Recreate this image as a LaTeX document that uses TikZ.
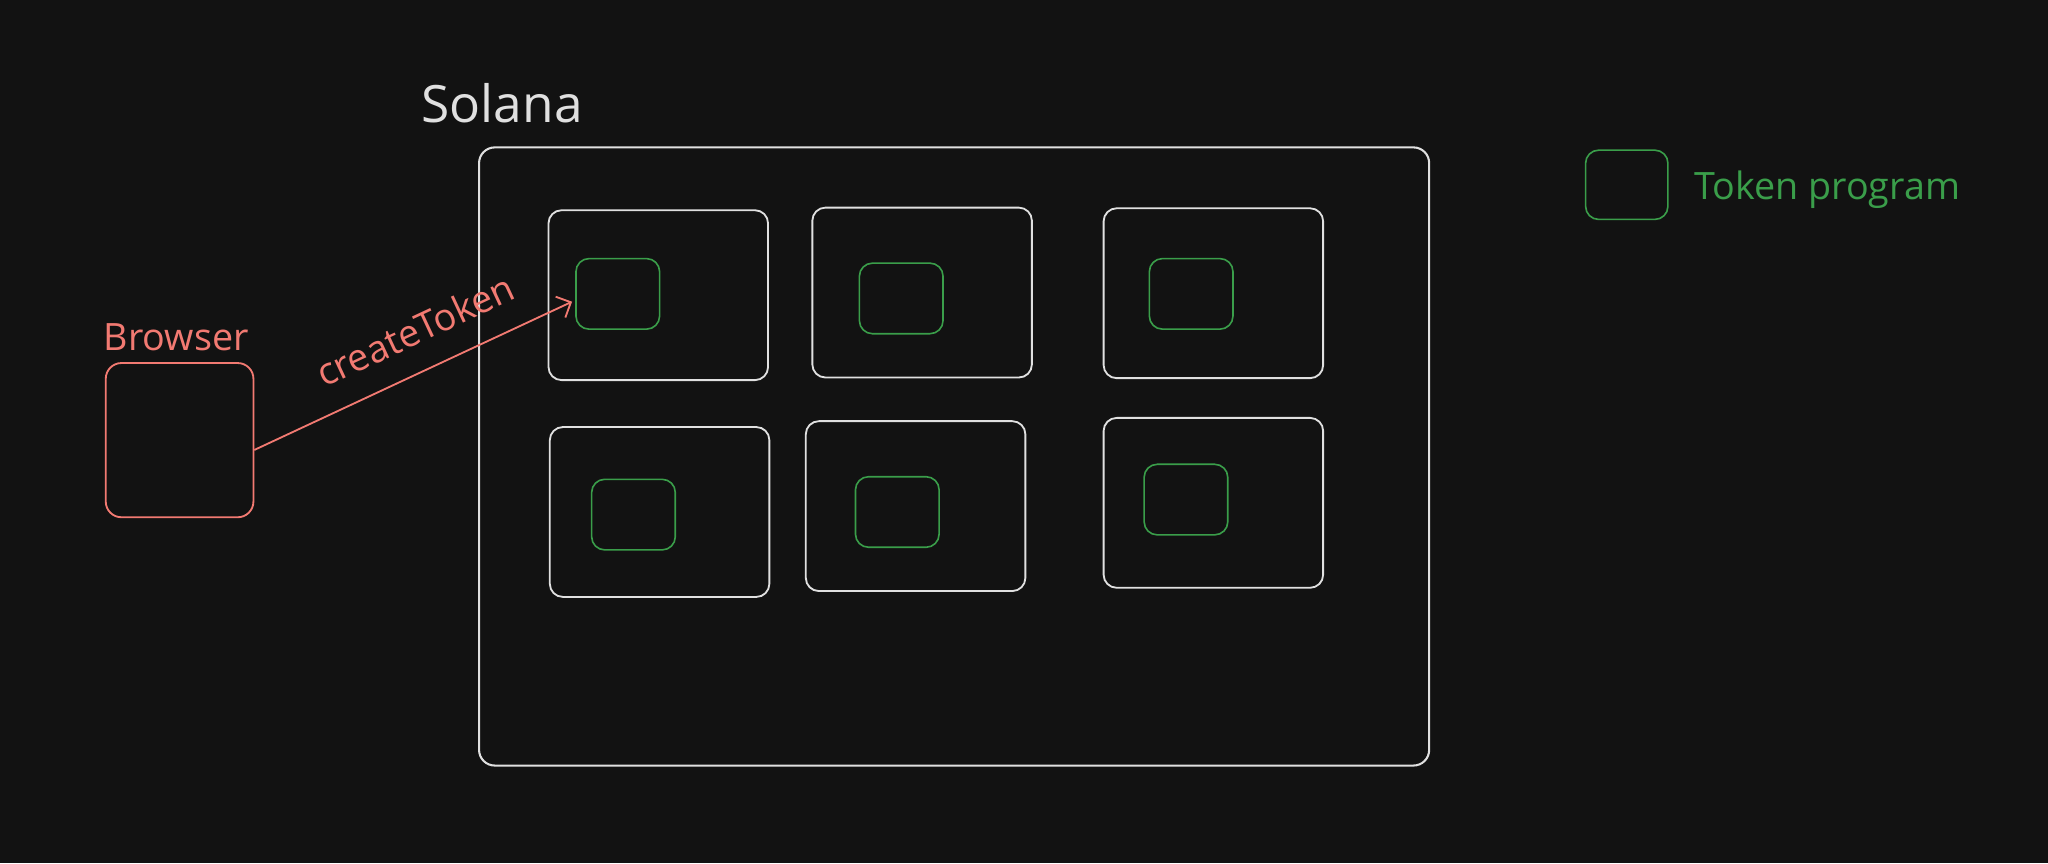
\documentclass[tikz,border=0pt]{standalone}
\usepackage{fontspec}
\setmainfont{Open Sans}
\usetikzlibrary{positioning,arrows.meta}
\definecolor{canvas}{HTML}{121212}
\definecolor{chalk}{HTML}{E0E0E0}
\definecolor{leaf}{HTML}{3A9E4A}
\definecolor{coral}{HTML}{F27A72}

\begin{document}
\begin{tikzpicture}[x=0.01cm, y=-0.01cm,
    ledger/.style={rectangle, draw=chalk, line width=0.4pt, rounded corners=0.1cm,
      minimum width=1.68cm, minimum height=1.3cm},
    program/.style={rectangle, draw=leaf, line width=0.35pt, rounded corners=0.1cm,
      minimum width=0.64cm, minimum height=0.54cm},
    txt/.style={inner sep=0pt, font=\fontsize{8.2}{10}\selectfont}
    ]
    \fill[canvas] (0,0) rectangle (1568,661);
    \useasboundingbox (0,0) rectangle (1568,661);
    % chain
    \node[rectangle, draw=chalk, line width=0.45pt, rounded corners=0.12cm,
      minimum width=7.27cm, minimum height=4.73cm] (solana) at (730.5,349.5) {};
    \node[inner sep=0pt, text=chalk, font=\fontsize{11.2}{13}\selectfont] (title) at (384.5,79) {Solana};
    % accounts
    \node[ledger] (A1) at (504,226) {};
    \node[ledger] (A2) at (706,224) {};
    \node[ledger] (A3) at (929,224.5) {};
    \node[ledger] (A4) at (505,392) {};
    \node[ledger] (A5) at (701,387.5) {};
    \node[ledger] (A6) at (929,385) {};
    \node[program] (P1) at (473,225) {};
    \node[program] (P2) at (690,228.5) {};
    \node[program] (P3) at (912,225) {};
    \node[program] (P4) at (485,394) {};
    \node[program] (P5) at (687,392) {};
    \node[program] (P6) at (908,382.5) {};
    % legend
    \node[program, minimum width=0.63cm, minimum height=0.53cm] (key) at (1245.5,141.5) {};
    \node[txt, text=leaf, anchor=west, yshift=-0.04cm] (keytext) [right=0.19cm of key] {Token program};
    % client
    \node[rectangle, draw=coral, line width=0.4pt, rounded corners=0.12cm,
      minimum width=1.13cm, minimum height=1.18cm] (browser) at (137.5,337) {};
    \node[txt, text=coral] (browsertext) at (135,258) {Browser};
    \coordinate (hit) at (438,231);
    \draw[coral, line width=0.4pt, -{Straight Barb[length=2.5pt,width=5pt]}]
      (browser.east |- 0,344.5) -- node[txt, sloped, above, pos=0.56, inner sep=5.5pt, text=coral] {createToken} (hit);
\end{tikzpicture}
\end{document}
